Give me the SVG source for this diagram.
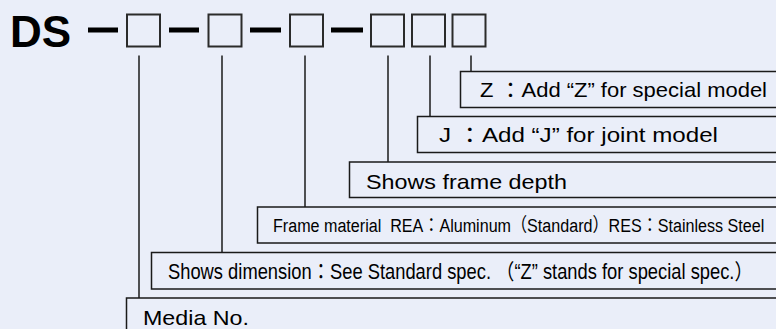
<svg xmlns="http://www.w3.org/2000/svg" width="776" height="329" viewBox="0 0 776 329">
  <style>
    .bg { fill: #eaeef9; }
    .slot { fill: none; stroke: #2b2b2b; stroke-width: 2; }
    .dash { fill: #000; }
    .lead { stroke: #1a1a1a; stroke-width: 1.5; fill: none; }
    .box { fill: #eaeef9; stroke: #1a1a1a; stroke-width: 1.5; }
    .title { font-family: "Liberation Sans", Arial, sans-serif; font-weight: bold; font-size: 44px; fill: #000; }
    .lbl { font-family: "Liberation Sans", Arial, "Noto Sans CJK KR", sans-serif; font-size: 21px; fill: #000; }
    .nar { font-family: "Liberation Sans", Arial, "Noto Sans CJK KR", sans-serif; fill: #000; }
  </style>

  <rect class="bg" x="0" y="0" width="776" height="329"/>

  <!-- model code: DS-□-□-□-□□□ -->
  <g id="code">
    <text class="title" x="10" y="47">DS</text>
    <rect class="dash" x="88" y="27.5" width="30" height="5"/>
    <rect class="slot" x="127" y="14.5" width="33" height="32"/>
    <rect class="dash" x="169" y="27.5" width="30" height="5"/>
    <rect class="slot" x="208.5" y="14.5" width="33" height="32"/>
    <rect class="dash" x="250" y="27.5" width="31" height="5"/>
    <rect class="slot" x="290" y="14.5" width="33" height="32"/>
    <rect class="dash" x="331" y="27.5" width="32" height="5"/>
    <rect class="slot" x="371" y="14.5" width="33" height="32"/>
    <rect class="slot" x="412" y="14.5" width="33" height="32"/>
    <rect class="slot" x="452.5" y="14.5" width="33" height="32"/>
  </g>

  <!-- leader lines from each slot down to its description -->
  <g id="connectors">
    <line class="lead" x1="139" y1="55.5" x2="139" y2="298"/>
    <line class="lead" x1="222" y1="55.5" x2="222" y2="252.5"/>
    <line class="lead" x1="305" y1="55.5" x2="305" y2="207"/>
    <line class="lead" x1="388" y1="55.5" x2="388" y2="162"/>
    <line class="lead" x1="430" y1="55.5" x2="430" y2="116.5"/>
    <line class="lead" x1="471" y1="55.5" x2="471" y2="71.5"/>
  </g>

  <g id="special">
    <rect class="box" x="460.5" y="71.5" width="330" height="36"/>
    <text class="lbl" x="480" y="97" textLength="287" lengthAdjust="spacingAndGlyphs">Z ：Add “Z” for special model</text>
  </g>

  <g id="joint">
    <rect class="box" x="417.5" y="116.5" width="370" height="36"/>
    <text class="lbl" x="439" y="142" textLength="279" lengthAdjust="spacingAndGlyphs">J ：Add “J” for joint model</text>
  </g>

  <g id="depth">
    <rect class="box" x="349.5" y="162" width="440" height="35.5"/>
    <text class="lbl" x="366" y="188.5" textLength="201" lengthAdjust="spacingAndGlyphs">Shows frame depth</text>
  </g>

  <!-- condensed lettering: horizontally squeezed sans -->
  <g id="material">
    <rect class="box" x="257.5" y="207" width="530" height="36"/>
    <text class="nar" transform="translate(273 232) scale(0.85 1)" x="0" y="0" font-size="19" textLength="578" lengthAdjust="spacingAndGlyphs">Frame material&#160; REA：Aluminum（Standard）RES：Stainless Steel</text>
  </g>

  <g id="dimension">
    <rect class="box" x="151.5" y="252.5" width="640" height="36.5"/>
    <text class="nar" transform="translate(168 278.5) scale(0.85 1)" x="0" y="0" font-size="21.5" textLength="688" lengthAdjust="spacingAndGlyphs">Shows dimension：See Standard spec. （“Z” stands for special spec.）</text>
  </g>

  <g id="media">
    <rect class="box" x="126.5" y="298" width="660" height="40"/>
    <text class="lbl" x="143" y="324.5" textLength="106" lengthAdjust="spacingAndGlyphs">Media No.</text>
  </g>
</svg>
